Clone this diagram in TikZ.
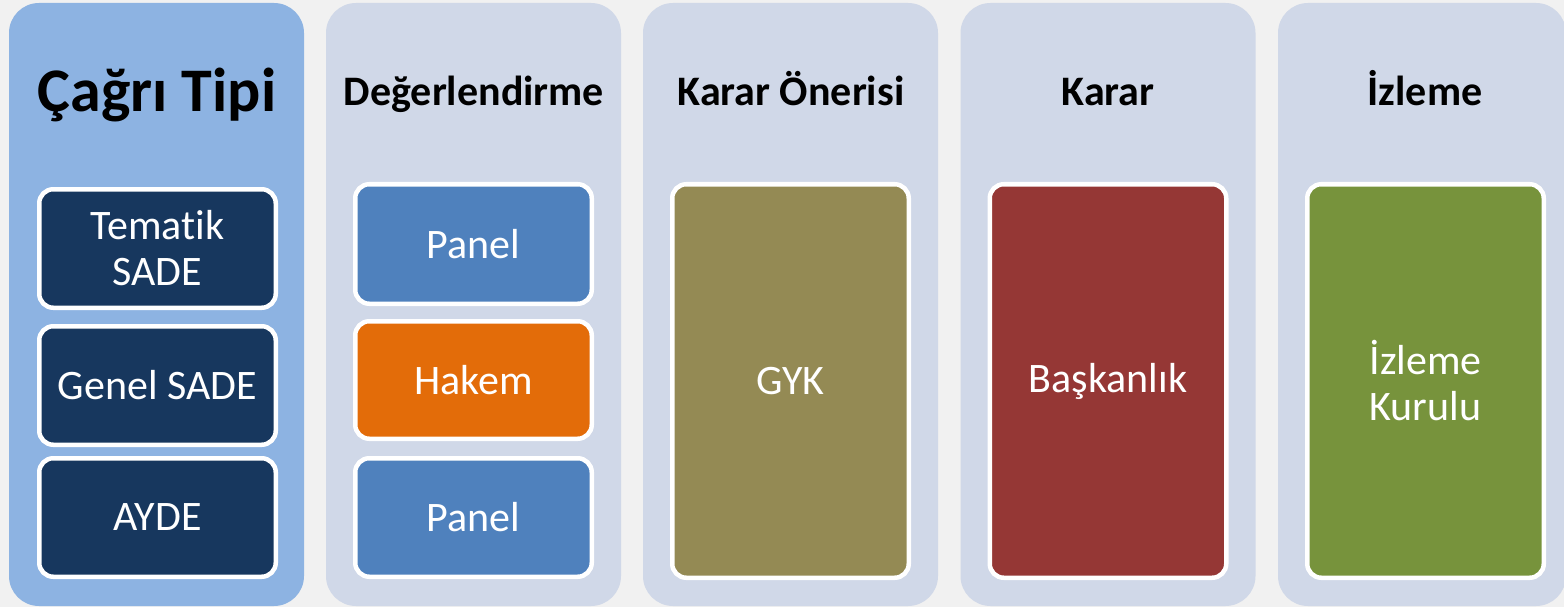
\documentclass[tikz,border=0pt]{standalone}
\usepackage{fontspec}
\setmainfont{Carlito}[Ligatures=NoCommon]
\definecolor{bg}{HTML}{F1F1F1}
\definecolor{colA}{HTML}{8DB3E2}
\definecolor{colB}{HTML}{D0D8E8}
\definecolor{navy}{HTML}{17375E}
\definecolor{blueB}{HTML}{4F81BD}
\definecolor{orangeB}{HTML}{E36C09}
\definecolor{oliveB}{HTML}{948A54}
\definecolor{redB}{HTML}{953735}
\definecolor{greenB}{HTML}{77933C}
\tikzset{
  colbox/.style={rounded corners=30pt, inner sep=0pt, minimum width=295pt, minimum height=603pt},
  itembox/.style={draw=white, line width=4.5pt, rounded corners=14pt, minimum width=236.5pt,
    text=white, font=\fontsize{42}{46}\selectfont, align=center, inner sep=0pt},
  headtxt/.style={font=\bfseries\fontsize{42}{48}\selectfont, anchor=base, inner sep=0pt, text=black},
}
\begin{document}
\begin{tikzpicture}[x=1pt,y=-1pt]
\useasboundingbox (0,0) rectangle (1564,607);
\fill[bg] (0,0) rectangle (1564,607);
% columns
\node[colbox, fill=colA] (c1) at (156.5,304.5) {};
\node[colbox, fill=colB] (c2) at (473.5,304.5) {};
\node[colbox, fill=colB] (c3) at (790.5,304.5) {};
\node[colbox, fill=colB] (c4) at (1108,304.5) {};
\node[colbox, fill=colB, minimum width=288pt] (c5) at (1422,304.5) {};
% headers
\node[headtxt, font=\bfseries\fontsize{62}{70}\selectfont] (h1) at (157,112) {Çağrı Tipi};
\node[headtxt] (h2) at (474,106) {Değerlendirme};
\node[headtxt] (h3) at (791,106) {Karar Önerisi};
\node[headtxt] (h4) at (1108,106) {Karar};
\node[headtxt] (h5) at (1425,106) {İzleme};
% column 1
\node[itembox, fill=navy, minimum height=118.5pt] (a1) at (157.5,248.5) {Tematik\\SADE};
\node[itembox, fill=navy, minimum height=118.5pt] (a2) at (157.5,385.5) {Genel SADE};
\node[itembox, fill=navy, minimum height=118.5pt] (a3) at (157.5,517.5) {AYDE};
% column 2
\node[itembox, fill=blueB, minimum height=119.5pt] (b1) at (473.5,244) {Panel};
\node[itembox, fill=orangeB, minimum height=117.5pt] (b2) at (473.5,380) {Hakem};
\node[itembox, fill=blueB, minimum height=118.5pt] (b3) at (473.5,517.5) {Panel};
% columns 3-5
\node[itembox, fill=oliveB, minimum height=393.5pt] (g1) at (790.5,381) {GYK};
\node[itembox, fill=redB, minimum height=393.5pt] (k1) at (1108,381) {Başkanlık};
\node[itembox, fill=greenB, minimum height=393.5pt] (i1) at (1425.5,381) {İzleme\\Kurulu};
\end{tikzpicture}
\end{document}
